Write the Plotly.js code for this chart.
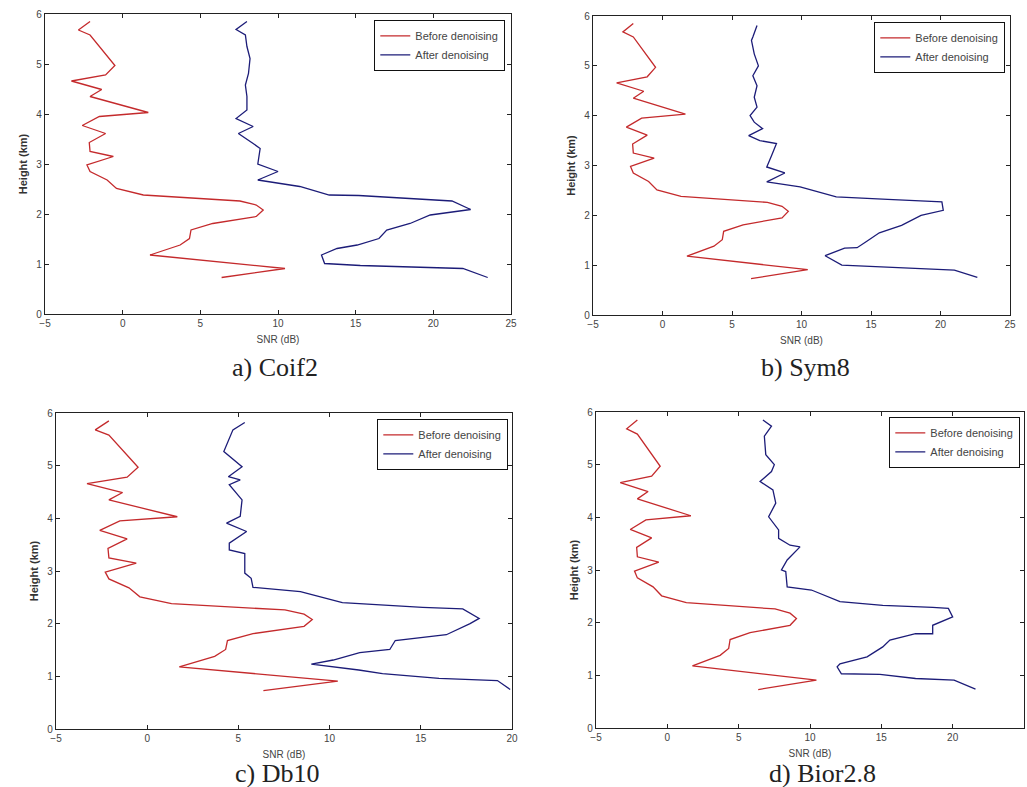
<!DOCTYPE html>
<html>
<head>
<meta charset="utf-8">
<script src="https://cdn.plot.ly/plotly-3.0.1.min.js"></script>
<style>html,body{margin:0;padding:0;background:#fff;}#chart{width:1027px;height:787px;}</style>
</head>
<body>
<div id="chart"></div>
<script>
// Red curve (before denoising), same in all four panels
const beforeH = [0.73,0.91,1.18,1.38,1.51,1.68,1.81,1.95,2.08,2.18,2.26,2.38,2.51,2.68,2.85,2.98,3.15,3.25,3.43,3.61,3.77,3.95,4.03,4.35,4.49,4.66,4.78,4.97,5.58,5.68,5.85];
const beforeSNR = [6.37,10.45,1.76,3.7,4.3,4.4,5.8,8.6,9.05,8.6,7.55,1.33,-0.4,-1.0,-2.1,-2.3,-0.6,-2.1,-2.15,-1.1,-2.6,-1.5,1.65,-2.1,-1.35,-3.3,-1.1,-0.5,-2.1,-2.85,-2.1];

// Blue curves (after denoising)
const coif2H = [0.73,0.91,0.97,1.01,1.18,1.31,1.38,1.51,1.68,1.81,1.98,2.09,2.26,2.37,2.38,2.55,2.68,2.85,3.0,3.31,3.41,3.61,3.75,3.91,4.08,4.35,4.58,4.81,5.11,5.35,5.58,5.65,5.69,5.85];
const coif2SNR = [23.5,21.9,15.3,13.0,12.8,13.8,15.1,16.5,17.0,18.5,19.8,22.4,21.2,15.2,13.3,11.4,8.7,10.0,8.7,8.85,8.4,7.45,8.4,7.3,8.0,8.0,7.9,8.1,8.2,8.0,7.9,7.55,7.3,8.0];

const sym8H = [0.755,0.9,1.0,1.19,1.34,1.35,1.48,1.65,1.8,2.0,2.1,2.27,2.32,2.37,2.57,2.67,2.85,2.97,3.2,3.44,3.5,3.6,3.74,3.87,4.0,4.17,4.37,4.6,4.8,5.0,5.24,5.51,5.58,5.81];
const sym8SNR = [22.65,21.0,12.9,11.7,13.1,14.0,14.7,15.6,17.2,18.6,20.2,20.1,16.2,12.5,9.9,7.5,8.8,7.5,7.85,8.2,7.0,6.2,7.2,6.6,6.3,6.8,6.6,6.8,6.5,6.9,6.6,6.4,6.5,6.8];

const db10H = [0.75,0.92,0.96,1.05,1.12,1.23,1.31,1.45,1.51,1.68,1.79,2.0,2.1,2.28,2.31,2.36,2.4,2.61,2.69,2.86,2.96,3.33,3.4,3.53,3.75,3.91,4.04,4.35,4.64,4.73,4.79,4.98,5.27,5.68,5.82];
const db10SNR = [19.9,19.2,16.0,12.9,11.6,9.0,10.2,11.65,13.3,13.6,16.4,17.7,18.2,17.3,15.1,12.2,10.7,8.4,5.8,5.7,5.35,5.35,4.5,4.5,5.45,4.35,5.1,5.2,4.5,5.1,4.45,5.2,4.2,4.7,5.35];

const bior28H = [0.74,0.91,0.94,1.02,1.03,1.16,1.22,1.35,1.54,1.67,1.79,1.79,1.95,2.11,2.27,2.29,2.33,2.4,2.62,2.68,2.97,3.0,3.19,3.44,3.47,3.6,3.76,4.01,4.27,4.52,4.68,4.87,5.0,5.19,5.54,5.73,5.85];
const bior28SNR = [21.6,20.1,17.4,14.9,12.2,11.9,12.1,14.0,15.1,15.6,17.4,18.6,18.6,20.0,19.7,18.6,15.1,12.1,10.1,8.4,8.3,8.0,8.4,9.3,8.6,7.8,7.8,7.1,7.6,7.4,6.5,7.3,7.5,6.9,6.8,7.3,6.7];

const captions = ["a) Coif2", "b) Sym8", "c) Db10", "d) Bior2.8"];
const seriesNames = ["Before denoising", "After denoising"];
const xRanges = [[-5,25],[-5,25],[-5,20],[-5,25]];
const xTicks = [[-5,0,5,10,15,20,25],[-5,0,5,10,15,20,25],[-5,0,5,10,15,20],[-5,0,5,10,15,20,25]];
const yTicks = [0,1,2,3,4,5,6];

const afterH = [coif2H, sym8H, db10H, bior28H];
const afterSNR = [coif2SNR, sym8SNR, db10SNR, bior28SNR];

const W = 1027, H = 787;
// pixel boxes [left, right, top, bottom]
const boxes = [[45,511,14,314],[593,1010,16,315],[56,512,413,729],[596,1024,412,728]];
const legendBoxes = [[505,20],[1005,22],[508,419],[1020,417]];
const captionPos = [[275,367],[805,367],[277,773],[822,773]];

const RED = '#c42a2c', BLUE = '#1c1c78';
const traces = [];
const layout = {
  width: W, height: H, margin: {l:0,r:0,t:0,b:0},
  paper_bgcolor: '#fff', plot_bgcolor: '#fff',
  font: {family: 'Liberation Sans, Arial, sans-serif', size: 10, color: '#333'},
  annotations: [], showlegend: true
};

for (let i = 0; i < 4; i++) {
  const n = i === 0 ? '' : String(i + 1);
  const lg = 'legend' + n;
  traces.push({x: beforeSNR, y: beforeH, type: 'scatter', mode: 'lines', name: seriesNames[0],
    line: {color: RED, width: 1.3}, xaxis: 'x' + n, yaxis: 'y' + n, legend: lg});
  traces.push({x: afterSNR[i], y: afterH[i], type: 'scatter', mode: 'lines', name: seriesNames[1],
    line: {color: BLUE, width: 1.3}, xaxis: 'x' + n, yaxis: 'y' + n, legend: lg});
  const b = boxes[i];
  layout['xaxis' + n] = {
    domain: [b[0]/W, b[1]/W], range: xRanges[i], tickvals: xTicks[i], anchor: 'y' + n,
    showgrid: false, zeroline: false, showline: true, linecolor: '#222', linewidth: 1.3,
    mirror: 'allticks', ticks: 'inside', ticklen: 4, tickcolor: '#222',
    tickfont: {size: 10, color: '#444'},
    title: {text: 'SNR (dB)', font: {size: 10, color: '#444'}, standoff: 7}
  };
  layout['yaxis' + n] = {
    domain: [1 - b[3]/H, 1 - b[2]/H], range: [0, 6], tickvals: yTicks, anchor: 'x' + n,
    showgrid: false, zeroline: false, showline: true, linecolor: '#222', linewidth: 1.3,
    mirror: 'allticks', ticks: 'inside', ticklen: 4, tickcolor: '#222',
    tickfont: {size: 10, color: '#444'},
    title: {text: '<b>Height (km)</b>', font: {size: 11, color: '#333'}, standoff: 6}
  };
  const lb = legendBoxes[i];
  layout[lg] = {
    x: lb[0]/W, y: 1 - lb[1]/H, xanchor: 'right', yanchor: 'top',
    bgcolor: '#fff', bordercolor: '#111', borderwidth: 1.3,
    font: {size: 11, color: '#444'}, tracegroupgap: 0
  };
  layout.annotations.push({
    text: captions[i], xref: 'paper', yref: 'paper',
    x: captionPos[i][0]/W, y: 1 - captionPos[i][1]/H, xanchor: 'center', yanchor: 'middle',
    showarrow: false, font: {family: 'Liberation Serif, Times New Roman, serif', size: 26, color: '#222'}
  });
}

Plotly.newPlot('chart', traces, layout, {displayModeBar: false, staticPlot: true});
</script>
</body>
</html>
